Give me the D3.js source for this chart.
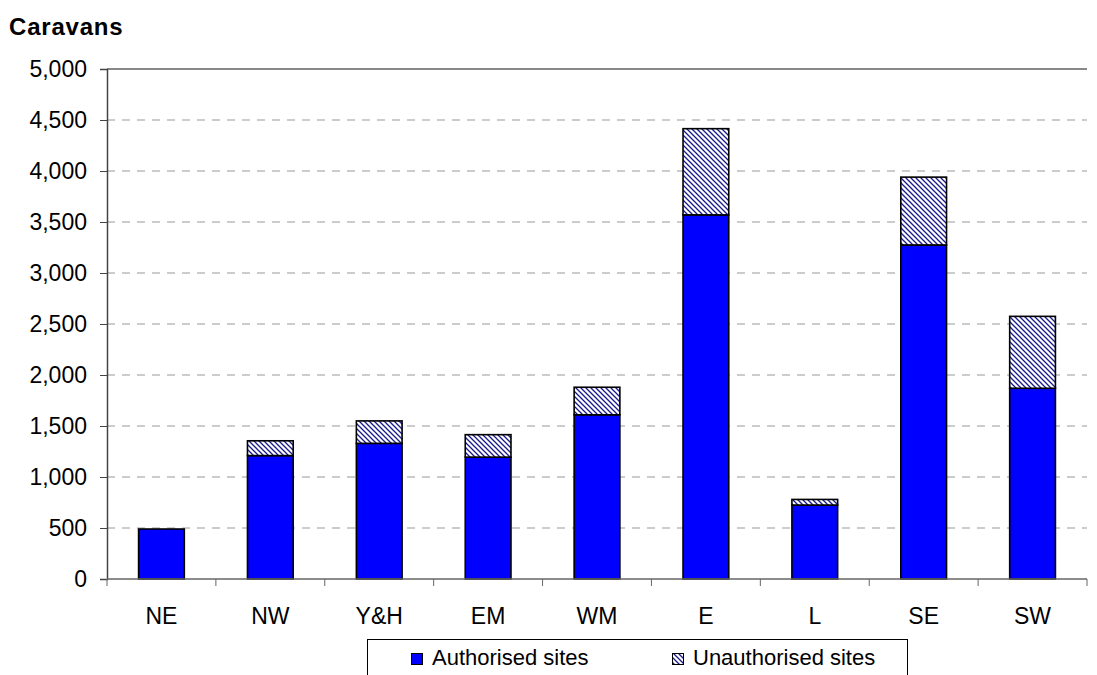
<!DOCTYPE html>
<html>
<head>
<meta charset="utf-8">
<script src="https://cdn.jsdelivr.net/npm/d3@7"></script>
<style>
  body { margin: 0; background: #fff; }
  text { font-family: "Liberation Sans", Arial, sans-serif; }
</style>
</head>
<body>
<script>
// chart data
const regions = ["NE", "NW", "Y&H", "EM", "WM", "E", "L", "SE", "SW"];
const authorised = [490, 1210, 1330, 1195, 1610, 3570, 725, 3275, 1870];
const unauthorised = [0, 145, 220, 220, 270, 845, 55, 665, 705];
const yTicks = [0, 500, 1000, 1500, 2000, 2500, 3000, 3500, 4000, 4500, 5000];
const seriesNames = ["Authorised sites", "Unauthorised sites"];

const W = 1097, H = 675;
const margin = { top: 69, right: 10, bottom: 96, left: 107 };
const plotW = W - margin.left - margin.right;
const plotH = H - margin.top - margin.bottom;

const svg = d3.select("body").append("svg")
    .attr("width", W)
    .attr("height", H);

// hatch for the unauthorised series
const defs = svg.append("defs");
const pat = defs.append("pattern")
    .attr("id", "hatch")
    .attr("patternUnits", "userSpaceOnUse")
    .attr("width", 5)
    .attr("height", 5);
pat.append("rect").attr("width", 5).attr("height", 5).attr("fill", "#fff");
pat.append("path")
    .attr("d", "M-1,-1 L6,6 M-1,4 L1,6 M4,-1 L6,1")
    .attr("stroke", "#1a1a8c")
    .attr("stroke-width", 1.3);

const g = svg.append("g")
    .attr("transform", "translate(" + margin.left + "," + margin.top + ")");

const x = d3.scaleBand()
    .domain(regions)
    .range([0, plotW])
    .paddingInner(0.58)
    .paddingOuter(0.29);

const y = d3.scaleLinear()
    .domain([0, 5000])
    .range([plotH, 0]);

// gridlines
g.append("g").selectAll("line")
    .data(yTicks.filter(d => d > 0 && d < 5000))
    .enter().append("line")
    .attr("x1", 0)
    .attr("x2", plotW)
    .attr("y1", d => y(d))
    .attr("y2", d => y(d))
    .attr("stroke", "#999")
    .attr("stroke-width", 1)
    .attr("stroke-dasharray", "8,7");

g.append("line")
    .attr("x1", 0).attr("x2", plotW)
    .attr("y1", y(5000)).attr("y2", y(5000))
    .attr("stroke", "#888")
    .attr("stroke-width", 2);

// stacked bars
const stackData = regions.map((r, i) => ({ region: r, auth: authorised[i], unauth: unauthorised[i] }));
const stack = d3.stack().keys(["auth", "unauth"])(stackData);
const fills = ["#0000ff", "url(#hatch)"];

g.selectAll(".layer")
    .data(stack)
    .enter().append("g")
    .attr("class", "layer")
    .attr("fill", (d, i) => fills[i])
    .selectAll("rect")
    .data(d => d.filter(p => p[1] - p[0] > 0))
    .enter().append("rect")
    .attr("x", d => x(d.data.region))
    .attr("width", x.bandwidth())
    .attr("y", d => y(d[1]))
    .attr("height", d => y(d[0]) - y(d[1]))
    .attr("stroke", "#000")
    .attr("stroke-width", 1.6);

// y axis
const yAxis = g.append("g")
    .call(d3.axisLeft(y).tickValues(yTicks).tickFormat(d3.format(",")).tickSize(7).tickPadding(13));
yAxis.select(".domain").attr("stroke", "#444").attr("stroke-width", 1.5);
yAxis.selectAll(".tick line").attr("stroke", "#444");
yAxis.selectAll("text").attr("font-size", 23).attr("fill", "#000");

// x axis with ticks between categories
const xAxis = g.append("g")
    .attr("transform", "translate(0," + plotH + ")");
xAxis.append("line")
    .attr("x1", 0).attr("x2", plotW)
    .attr("stroke", "#666").attr("stroke-width", 1.5);
xAxis.selectAll(".xt")
    .data(d3.range(regions.length + 1))
    .enter().append("line")
    .attr("x1", i => i * plotW / regions.length)
    .attr("x2", i => i * plotW / regions.length)
    .attr("y1", 0).attr("y2", 7)
    .attr("stroke", "#666");
xAxis.selectAll(".xl")
    .data(regions)
    .enter().append("text")
    .attr("x", d => x(d) + x.bandwidth() / 2)
    .attr("y", 45)
    .attr("text-anchor", "middle")
    .attr("font-size", 23)
    .text(d => d);

// title
svg.append("text")
    .attr("x", 9)
    .attr("y", 35)
    .attr("font-size", 24)
    .attr("font-weight", "bold")
    .attr("letter-spacing", 0.8)
    .text("Caravans");

// legend
const legend = svg.append("g");
legend.append("rect")
    .attr("x", 367.5).attr("y", 639.5)
    .attr("width", 540).attr("height", 50)
    .attr("fill", "#fff")
    .attr("stroke", "#000");
const legX = [411, 672];
seriesNames.forEach((name, i) => {
    legend.append("rect")
        .attr("x", legX[i] + 0.5).attr("y", 653.5)
        .attr("width", 11).attr("height", 11)
        .attr("fill", fills[i])
        .attr("stroke", "#000");
    legend.append("text")
        .attr("x", legX[i] + 21)
        .attr("y", 665)
        .attr("font-size", 22)
        .text(name);
});
</script>
</body>
</html>
